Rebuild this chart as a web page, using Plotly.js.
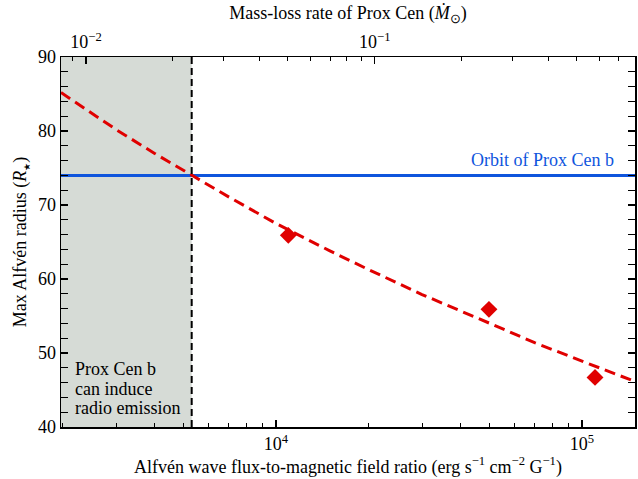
<!DOCTYPE html>
<html>
<head>
<meta charset="utf-8">
<script src="https://cdn.plot.ly/plotly-3.0.1.min.js"></script>
<style>html,body{margin:0;padding:0;background:#fff;font-family:"Liberation Serif",serif;}#chart{width:638px;height:479px;}</style>
</head>
<body>
<div id="chart"></div>
<script>
// Data
const fitFlux = [1983, 3000, 4000, 5300, 7000, 10000, 15000, 20000, 30000, 50000, 70000, 100000, 149000];
const fitRadius = [85.2, 80.2, 77.0, 74.0, 71.1, 67.5, 63.8, 61.3, 57.9, 54.0, 51.4, 48.9, 46.15];
const simFlux = [10970, 49650, 110300];
const simRadius = [65.9, 55.9, 46.7];
const orbitRadius = 74.0;
const thresholdFlux = 5302;
const xRange = [1983, 149000];
const x2Range = [0.00819, 0.797];
const yRange = [40, 90];
const xMajorTicks = [10000, 100000];
const xMajorLabels = ['10<sup>4</sup>', '10<sup>5</sup>'];
const xMinorTicks = [2000,3000,4000,5000,6000,7000,8000,9000,20000,30000,40000,50000,60000,70000,80000,90000];
const x2MajorTicks = [0.01, 0.1];
const x2MajorLabels = ['10<sup>−2</sup>', '10<sup>−1</sup>'];
const x2MinorTicks = [0.009,0.02,0.03,0.04,0.05,0.06,0.07,0.08,0.09,0.2,0.3,0.4,0.5,0.6,0.7];
const shadeNote = ['Prox Cen b', 'can induce', 'radio emission'];
const shadeNoteY = [47.8, 45.2, 42.6];

const FONT = '"Liberation Serif", "Times New Roman", serif';
const RED = '#e00000';
const BLUE = '#0f55dd';

const traces = [
  {x: fitFlux, y: fitRadius, mode: 'lines', line: {color: RED, width: 3, dash: '11px,6px'}, showlegend: false, hoverinfo: 'skip'},
  {x: simFlux, y: simRadius, mode: 'markers', marker: {symbol: 'diamond', size: 13, color: RED}, showlegend: false},
  {x: x2MajorTicks, y: [null, null], xaxis: 'x2', mode: 'lines', showlegend: false, hoverinfo: 'skip'}
];

const logR = r => r.map(Math.log10);
const axisCommon = {
  showline: true, linecolor: '#000', linewidth: 1.5,
  ticks: 'inside', ticklen: 7, tickwidth: 1.3, tickcolor: '#000',
  showgrid: false, zeroline: false,
  tickfont: {family: FONT, size: 18, color: '#000'}
};

const layout = {
  width: 638, height: 479,
  margin: {l: 61, r: 3, t: 57, b: 52},
  paper_bgcolor: '#fff', plot_bgcolor: '#fff',
  font: {family: FONT, size: 18, color: '#000'},
  showlegend: false,
  xaxis: Object.assign({}, axisCommon, {
    type: 'log', range: logR(xRange),
    tickmode: 'array', tickvals: xMajorTicks, ticktext: xMajorLabels,
    minor: {tickmode: 'array', tickvals: xMinorTicks, ticks: 'inside', ticklen: 4, tickwidth: 1, tickcolor: '#000'},
    mirror: false,
    title: {text: 'Alfvén wave flux-to-magnetic field ratio (erg s<sup>−1</sup> cm<sup>−2</sup> G<sup>−1</sup>)', font: {family: FONT, size: 18}, standoff: 5}
  }),
  xaxis2: Object.assign({}, axisCommon, {
    type: 'log', range: logR(x2Range), overlaying: 'x', side: 'top', anchor: 'y',
    tickmode: 'array', tickvals: x2MajorTicks, ticktext: x2MajorLabels,
    minor: {tickmode: 'array', tickvals: x2MinorTicks, ticks: 'inside', ticklen: 4, tickwidth: 1, tickcolor: '#000'},
    title: {text: 'Mass-loss rate of Prox Cen (<i>Ṁ</i><sub>⊙</sub>)', font: {family: FONT, size: 18}, standoff: 5}
  }),
  yaxis: Object.assign({}, axisCommon, {
    range: yRange, dtick: 10, tick0: 40, mirror: 'allticks',
    minor: {dtick: 2, ticks: 'inside', ticklen: 4, tickwidth: 1, tickcolor: '#000'},
    title: {text: 'Max Alfvén radius (<i>R</i><sub><span style="font-size:9px">★</span></sub>)', font: {family: FONT, size: 18}, standoff: 6}
  }),
  shapes: [
    {type: 'rect', xref: 'x', yref: 'paper', x0: xRange[0], x1: thresholdFlux, y0: 0, y1: 1,
     fillcolor: '#d6dbd6', line: {width: 0}, layer: 'below'},
    {type: 'line', xref: 'x', yref: 'paper', x0: thresholdFlux, x1: thresholdFlux, y0: 0, y1: 1,
     line: {color: '#000', width: 2, dash: '7px,4px'}},
    {type: 'line', xref: 'paper', yref: 'y', x0: 0, x1: 1, y0: orbitRadius, y1: orbitRadius,
     line: {color: BLUE, width: 3}, layer: 'below'}
  ],
  annotations: [
    {xref: 'paper', yref: 'y', x: 0.967, y: 76.1, xanchor: 'right', yanchor: 'middle', showarrow: false,
     text: 'Orbit of Prox Cen b', font: {family: FONT, size: 18, color: BLUE}}
  ].concat(shadeNote.map((t, i) => ({
     xref: 'paper', yref: 'y', x: 0.021, y: shadeNoteY[i], xanchor: 'left', yanchor: 'middle', showarrow: false,
     text: t, font: {family: FONT, size: 18, color: '#000'}
  })))
};

Plotly.newPlot('chart', traces, layout, {displayModeBar: false, staticPlot: true});
</script>
</body>
</html>
